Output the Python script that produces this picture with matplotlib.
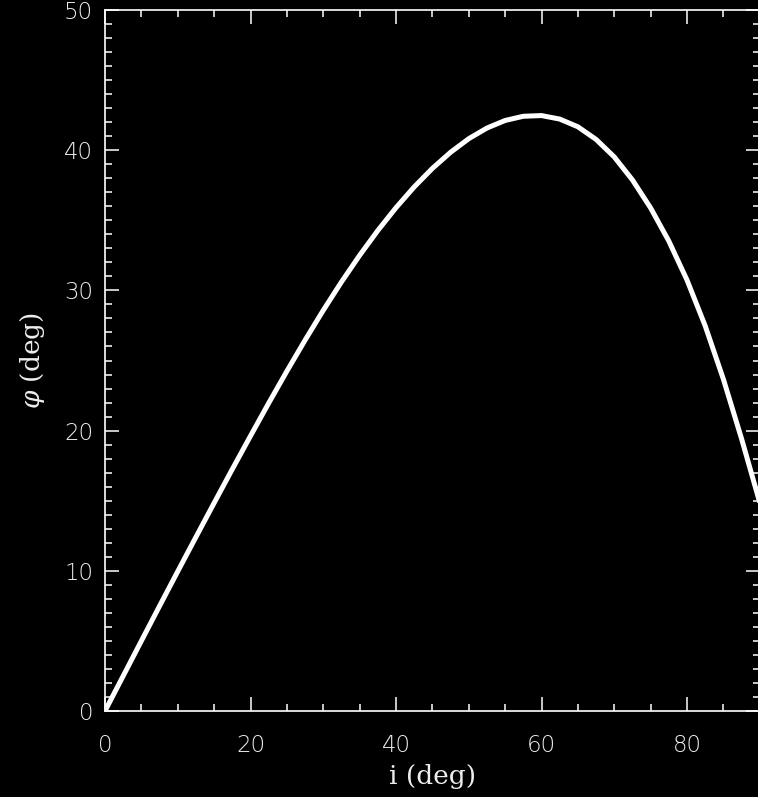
import numpy as np
import matplotlib; matplotlib.use("Agg")
import matplotlib.pyplot as plt
from matplotlib.ticker import MultipleLocator

# phi vs inclination
incl = [0, 2.5, 5, 7.5, 10, 12.5, 15, 17.5, 20, 22.5, 25, 27.5, 30, 32.5, 35, 37.5,
        40, 42.5, 45, 47.5, 50, 52.5, 55, 57.5, 60, 62.5, 65, 67.5, 70, 72.5, 75,
        77.5, 80, 82.5, 85, 87.5, 90]
phi = [0, 2.5, 5.0, 7.49, 9.96, 12.41, 14.84, 17.25, 19.62, 21.96, 24.24, 26.45,
       28.58, 30.6, 32.5, 34.27, 35.9, 37.38, 38.7, 39.85, 40.82, 41.58, 42.12,
       42.42, 42.47, 42.22, 41.67, 40.77, 39.52, 37.88, 35.88, 33.52, 30.74,
       27.47, 23.67, 19.42, 14.87]
xticks = [0, 20, 40, 60, 80]
yticks = [0, 10, 20, 30, 40, 50]

plt.rcParams['mathtext.fontset'] = 'dejavuserif'
W, H = 758, 797
fig = plt.figure(figsize=(W/100, H/100), dpi=100, facecolor="black")
ax = fig.add_axes([105/W, 86/H, 654.75/W, 701/H], facecolor="black")

ax.plot(incl, phi, color="white", lw=3.6, solid_joinstyle="round")
ax.set_xlim(0, 90); ax.set_ylim(0, 50)
ax.set_xticks(xticks); ax.set_yticks(yticks)
ax.xaxis.set_minor_locator(MultipleLocator(5))
ax.yaxis.set_minor_locator(MultipleLocator(1))
for s in ax.spines.values():
    s.set_color("white"); s.set_linewidth(1.2)
ax.tick_params(which="both", direction="in", top=True, right=True, colors="white", width=1.1)
ax.tick_params(which="major", length=10)
ax.tick_params(which="minor", length=5)
ax.tick_params(axis="x", which="major", pad=16.5, labelsize=16.5)
ax.tick_params(axis="y", which="major", pad=8.5, labelsize=16.5)
for lb in ax.get_xticklabels() + ax.get_yticklabels():
    lb.set_family("DejaVu Sans"); lb.set_color("#eeeeee"); lb.set_fontweight("light")

ax.set_xlabel("i (deg)", color="#eeeeee", fontsize=19, family="DejaVu Serif")
ax.set_ylabel(r"$\varphi$ (deg)", color="#eeeeee", fontsize=19, family="DejaVu Serif")
ax.xaxis.set_label_coords(0.5, -0.075)
ax.yaxis.set_label_coords(-0.088, 0.5)

fig.savefig("out.png", dpi=100, facecolor="black")
